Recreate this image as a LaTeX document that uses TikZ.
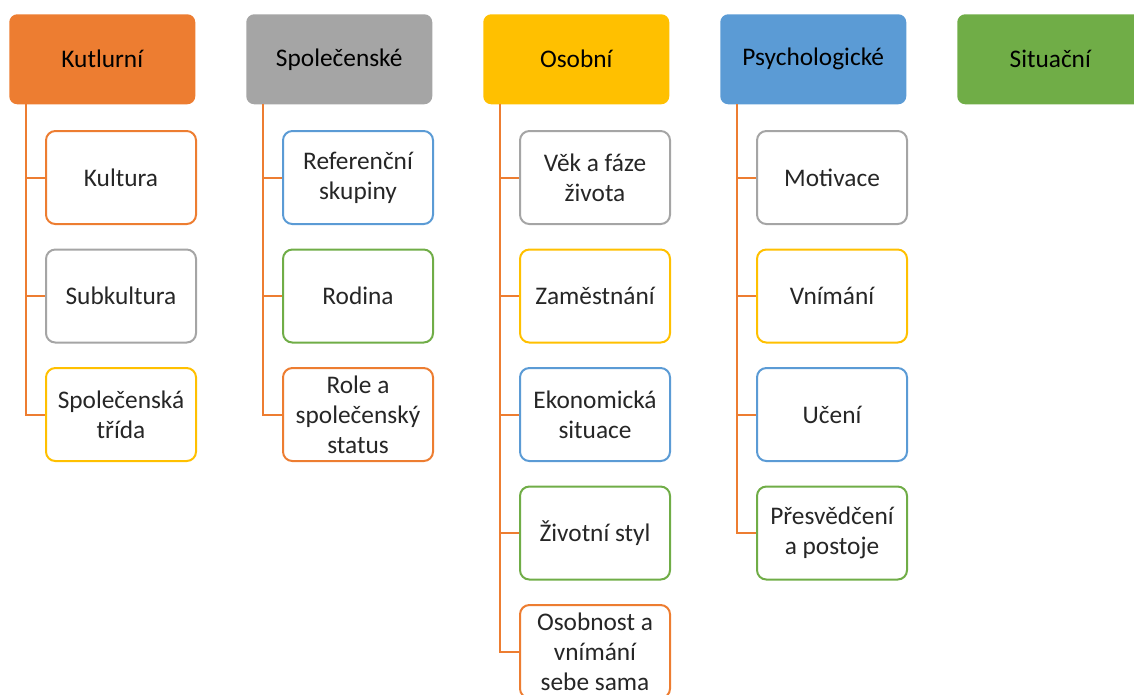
\documentclass[tikz,border=0pt]{standalone}
\usepackage{fontspec}
\setmainfont{Carlito}
\definecolor{oran}{HTML}{ED7D31}
\definecolor{grey}{HTML}{A5A5A5}
\definecolor{gold}{HTML}{FFC000}
\definecolor{blu}{HTML}{5B9BD5}
\definecolor{grn}{HTML}{70AD47}
\begin{document}
\begin{tikzpicture}[x=0.75pt,y=-0.75pt,
  head/.style={rectangle,rounded corners=6pt,inner sep=0pt,anchor=north west,
    minimum width=139.5pt,minimum height=67.5pt,font=\fontsize{19}{22.5}\selectfont},
  item/.style={draw=#1,line width=1.5pt,fill=white,rounded corners=7pt,inner sep=0pt,
    minimum width=112.5pt,minimum height=69.75pt,align=center,text=black!85,
    font=\fontsize{19}{22.5}\selectfont},
  conn/.style={draw=oran,line width=1.5pt}]
\useasboundingbox (0,0) rectangle (1134,694);

% headers
\node[head,fill=oran] (k) at (9,14) {Kutlurní};
\node[head,fill=grey] (s) at (246,14) {Společenské};
\node[head,fill=gold] (o) at (483,14) {Osobní};
\node[head,fill=blu] (p) at (720,14) {Psychologické};
\node[head,fill=grn] (si) at (957,14) {Situační};

% first column
\node[item=oran] (k1) at (121,177.5) {Kultura};
\node[item=grey] (k2) at (121,296) {Subkultura};
\node[item=gold] (k3) at (121,414.5) {Společenská\\třída};

% second column
\node[item=blu] (s1) at (358,177.5) {Referenční\\skupiny};
\node[item=grn] (s2) at (358,296) {Rodina};
\node[item=oran] (s3) at (358,414.5) {Role a\\společenský\\status};

% third column
\node[item=grey] (o1) at (595,177.5) {Věk a fáze\\života};
\node[item=gold] (o2) at (595,296) {Zaměstnání};
\node[item=blu] (o3) at (595,414.5) {Ekonomická\\situace};
\node[item=grn] (o4) at (595,533) {Životní styl};
\node[item=oran] (o5) at (595,651.5) {Osobnost a\\vnímání\\sebe sama};

% fourth column
\node[item=grey] (p1) at (832,177.5) {Motivace};
\node[item=gold] (p2) at (832,296) {Vnímání};
\node[item=blu] (p3) at (832,414.5) {Učení};
\node[item=grn] (p4) at (832,533) {Přesvědčení\\a postoje};

\coordinate (kt) at (26,104);
\coordinate (st) at (263,104);
\coordinate (ot) at (500,104);
\coordinate (pt) at (737,104);

\draw[conn] (kt) |- (k3.west);
\draw[conn] (kt |- k1.west) -- (k1.west);
\draw[conn] (kt |- k2.west) -- (k2.west);

\draw[conn] (st) |- (s3.west);
\draw[conn] (st |- s1.west) -- (s1.west);
\draw[conn] (st |- s2.west) -- (s2.west);

\draw[conn] (ot) |- (o5.west);
\draw[conn] (ot |- o1.west) -- (o1.west);
\draw[conn] (ot |- o2.west) -- (o2.west);
\draw[conn] (ot |- o3.west) -- (o3.west);
\draw[conn] (ot |- o4.west) -- (o4.west);

\draw[conn] (pt) |- (p4.west);
\draw[conn] (pt |- p1.west) -- (p1.west);
\draw[conn] (pt |- p2.west) -- (p2.west);
\draw[conn] (pt |- p3.west) -- (p3.west);
\end{tikzpicture}
\end{document}
